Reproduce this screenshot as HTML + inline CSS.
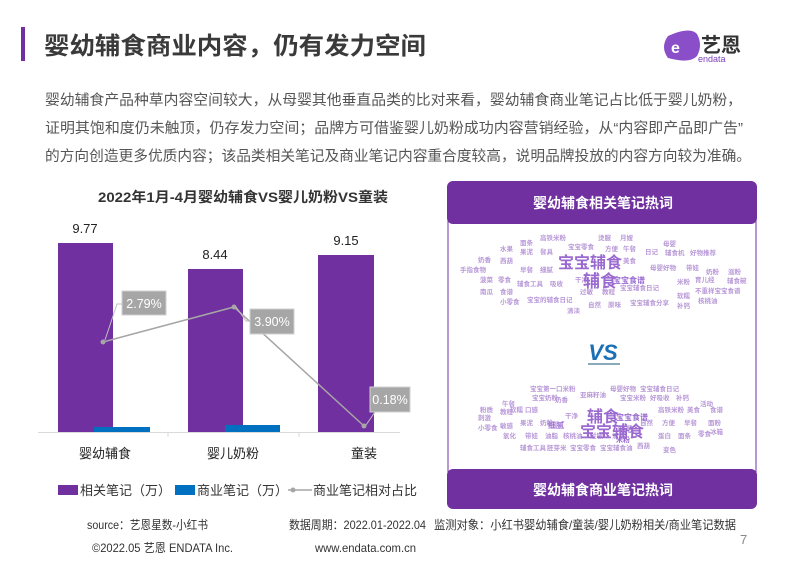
<!DOCTYPE html>
<html><head><meta charset="utf-8"><style>
html,body{margin:0;padding:0;background:#fff;}
body{width:800px;height:565px;overflow:hidden;font-family:"Liberation Sans","Noto Sans CJK SC",sans-serif;}
</style></head><body>
<svg width="800" height="565" viewBox="0 0 800 565" xmlns="http://www.w3.org/2000/svg" font-family="Liberation Sans, Noto Sans CJK SC, sans-serif">
<rect x="21" y="27" width="4" height="34" fill="#7030a0"/>
<text x="44" y="54" font-size="24" font-weight="bold" fill="#3a3a3a" textLength="382" lengthAdjust="spacingAndGlyphs">婴幼辅食商业内容，仍有发力空间</text>
<!-- logo -->
<path d="M668 36 Q690 26 697 34 Q703 45 697 56 Q690 64 668 58 Q660 47 668 36Z" fill="#8a4fc8"/>
<text x="671" y="53" font-size="16" font-weight="bold" fill="#fff">e</text>
<text x="701" y="52" font-size="20" font-weight="bold" fill="#333">艺恩</text>
<text x="698" y="62" font-size="9" fill="#7a3fb8">endata</text>
<g font-size="14.5" fill="#555">
<text x="45" y="105" textLength="697" lengthAdjust="spacingAndGlyphs">婴幼辅食产品种草内容空间较大，从母婴其他垂直品类的比对来看，婴幼辅食商业笔记占比低于婴儿奶粉，</text>
<text x="45" y="133" textLength="698" lengthAdjust="spacingAndGlyphs">证明其饱和度仍未触顶，仍存发力空间；品牌方可借鉴婴儿奶粉成功内容营销经验，从“内容即产品即广告”</text>
<text x="45" y="161" textLength="706" lengthAdjust="spacingAndGlyphs">的方向创造更多优质内容；该品类相关笔记及商业笔记内容重合度较高，说明品牌投放的内容方向较为准确。</text>
</g>
<!-- chart -->
<text x="98" y="202" font-size="14" font-weight="bold" fill="#333" textLength="290" lengthAdjust="spacingAndGlyphs">2022年1月-4月婴幼辅食VS婴儿奶粉VS童装</text>
<rect x="58" y="243" width="55" height="189" fill="#7030a0"/>
<rect x="188" y="269" width="55" height="163" fill="#7030a0"/>
<rect x="318" y="255" width="56" height="177" fill="#7030a0"/>
<rect x="94" y="427" width="56" height="5" fill="#0070c0"/>
<rect x="225" y="425" width="55" height="7" fill="#0070c0"/>
<line x1="38" y1="432.5" x2="400" y2="432.5" stroke="#d9d9d9"/>
<line x1="168" y1="432" x2="168" y2="437" stroke="#d9d9d9"/>
<line x1="299" y1="432" x2="299" y2="437" stroke="#d9d9d9"/>
<g font-size="13" fill="#222" text-anchor="middle">
<text x="85" y="233">9.77</text><text x="215" y="259">8.44</text><text x="346" y="245">9.15</text>
<text x="105" y="458">婴幼辅食</text><text x="233" y="458">婴儿奶粉</text><text x="364" y="458">童装</text>
</g>
<polyline points="103,342 234,307 364,426" fill="none" stroke="#a6a6a6" stroke-width="1.5"/>
<g fill="#a6a6a6"><circle cx="103" cy="342" r="2.5"/><circle cx="234" cy="307" r="2.5"/><circle cx="364" cy="426" r="2.5"/></g>
<polyline points="105,340 117,304 122,304" fill="none" stroke="#bfbfbf"/>
<polyline points="236,307 246,321 250,321" fill="none" stroke="#bfbfbf"/>
<polyline points="366,425 375,412" fill="none" stroke="#bfbfbf"/>
<g fill="#a6a6a6" stroke="#d0d0d0">
<rect x="122" y="291" width="44" height="24"/><rect x="250" y="309" width="44" height="25"/><rect x="370" y="387" width="40" height="25"/>
</g>
<g font-size="12.5" fill="#fff" text-anchor="middle">
<text x="144" y="308">2.79%</text><text x="272" y="326">3.90%</text><text x="390" y="404">0.18%</text>
</g>
<g font-size="13" fill="#333">
<rect x="58" y="485" width="20" height="10" fill="#7030a0"/><text x="80" y="495">相关笔记（万）</text>
<rect x="175" y="485" width="20" height="10" fill="#0070c0"/><text x="197" y="495">商业笔记（万）</text>
<line x1="288" y1="490" x2="312" y2="490" stroke="#a6a6a6" stroke-width="1.5"/><circle cx="293" cy="490" r="2.5" fill="#a6a6a6"/>
<text x="313" y="495">商业笔记相对占比</text>
</g>
<!-- right panel -->
<rect x="448" y="182" width="308" height="326" rx="6" fill="#fff" stroke="#7030a0" stroke-width="1"/>
<rect x="447" y="181" width="310" height="43" rx="6" fill="#7030a0"/>
<rect x="447" y="469" width="310" height="40" rx="6" fill="#7030a0"/>
<text x="603" y="208" font-size="14" font-weight="bold" fill="#fff" text-anchor="middle">婴幼辅食相关笔记热词</text>
<text x="603" y="495" font-size="14" font-weight="bold" fill="#fff" text-anchor="middle">婴幼辅食商业笔记热词</text>
<text x="603" y="360" font-size="22" font-weight="bold" font-style="italic" fill="#1b6fb5" text-anchor="middle">VS</text>
<line x1="588" y1="364" x2="620" y2="364" stroke="#8ab" stroke-width="2"/>
<g fill="#b898d8" font-size="6.5" font-weight="bold">
<text x="540" y="240">高铁米粉</text><text x="598" y="240">烫服</text><text x="620" y="240">月嫂</text>
<text x="520" y="245">面条</text><text x="568" y="249">宝宝零食</text><text x="663" y="246">母婴</text>
<text x="500" y="251">水果</text><text x="520" y="254">果泥</text><text x="540" y="254">餐具</text><text x="605" y="251">方便</text><text x="623" y="251">午餐</text><text x="645" y="254">日记</text><text x="665" y="255">辅食机</text><text x="690" y="255">好物推荐</text>
<text x="478" y="262">奶香</text><text x="500" y="263">西葫</text><text x="623" y="263">美食</text>
<text x="460" y="272">手指食物</text><text x="520" y="272">早餐</text><text x="540" y="272">细腻</text><text x="650" y="270">母婴好物</text><text x="686" y="270">带娃</text><text x="706" y="274">奶粉</text><text x="728" y="274">滋粉</text>
<text x="480" y="282">菠菜</text><text x="498" y="282">零食</text><text x="517" y="286">辅食工具</text><text x="550" y="286">吸收</text><text x="575" y="282">干净</text><text x="677" y="284">米粉</text><text x="695" y="282">育儿经</text><text x="727" y="283">辅食碗</text>
<text x="480" y="294">南瓜</text><text x="500" y="294">食谱</text><text x="580" y="294">过敏</text><text x="602" y="294">教程</text><text x="620" y="290">宝宝辅食日记</text><text x="695" y="293">不重样宝宝食谱</text>
<text x="500" y="304">小零食</text><text x="527" y="302">宝宝的辅食日记</text><text x="677" y="298">软糯</text><text x="698" y="303">核桃油</text>
<text x="588" y="307">自然</text><text x="608" y="307">原味</text><text x="630" y="305">宝宝辅食分享</text><text x="677" y="308">补钙</text>
<text x="567" y="313">清淡</text>
<text x="530" y="391">宝宝第一口米粉</text><text x="610" y="391">母婴好物</text><text x="640" y="391">宝宝辅食日记</text>
<text x="532" y="400">宝宝奶粉</text><text x="555" y="402">奶香</text><text x="580" y="397">亚麻籽油</text><text x="620" y="400">宝宝米粉</text><text x="650" y="400">好吸收</text><text x="676" y="400">补钙</text>
<text x="502" y="406">午餐</text><text x="700" y="406">活动</text>
<text x="480" y="412">粉质</text><text x="510" y="412">软糯</text><text x="525" y="412">口感</text><text x="658" y="412">高铁米粉</text><text x="687" y="412">美食</text><text x="710" y="412">食谱</text>
<text x="478" y="420">刺激</text><text x="500" y="414">教程</text><text x="565" y="418">干净</text>
<text x="478" y="430">小零食</text><text x="520" y="425">果泥</text><text x="540" y="425">奶粉</text><text x="640" y="425">自然</text><text x="662" y="425">方便</text><text x="684" y="425">早餐</text><text x="708" y="425">面粉</text>
<text x="500" y="428">敏感</text><text x="710" y="434">冰箱</text>
<text x="503" y="438">氧化</text><text x="525" y="438">带娃</text><text x="545" y="438">油脂</text><text x="563" y="438">核桃油</text><text x="590" y="438">过敏</text><text x="612" y="438">清淡</text><text x="658" y="438">蛋白</text><text x="678" y="438">面条</text><text x="698" y="436">零食</text>
<text x="520" y="450">辅食工具</text><text x="547" y="450">胚芽米</text><text x="570" y="450">宝宝零食</text><text x="600" y="450">宝宝辅食油</text><text x="637" y="448">西葫</text><text x="663" y="452">变色</text>
</g>
<g fill="#9a6ad0" font-weight="bold">
<text x="558" y="268" font-size="16">宝宝辅食</text><text x="583" y="287" font-size="17">辅食</text>
<text x="613" y="283" font-size="8">宝宝食谱</text>
<text x="587" y="422" font-size="16">辅食</text><text x="580" y="437" font-size="16">宝宝辅食</text>
<text x="548" y="428" font-size="8">细腻</text><text x="616" y="420" font-size="8">宝宝食谱</text><text x="618" y="432" font-size="8">吸收</text><text x="616" y="442" font-size="7">米粉</text>
</g>
<!-- footer -->
<g font-size="12" fill="#333">
<text x="87" y="529" textLength="121" lengthAdjust="spacingAndGlyphs">source：艺恩星数-小红书</text>
<text x="289" y="529" textLength="137" lengthAdjust="spacingAndGlyphs">数据周期：2022.01-2022.04</text>
<text x="434" y="529" textLength="302" lengthAdjust="spacingAndGlyphs">监测对象：小红书婴幼辅食/童装/婴儿奶粉相关/商业笔记数据</text>
<text x="92" y="552" textLength="141" lengthAdjust="spacingAndGlyphs">©2022.05 艺恩 ENDATA Inc.</text>
<text x="315" y="552" textLength="101" lengthAdjust="spacingAndGlyphs">www.endata.com.cn</text>
</g>
<text x="740" y="544" font-size="13" fill="#888">7</text>
</svg>
</body></html>
